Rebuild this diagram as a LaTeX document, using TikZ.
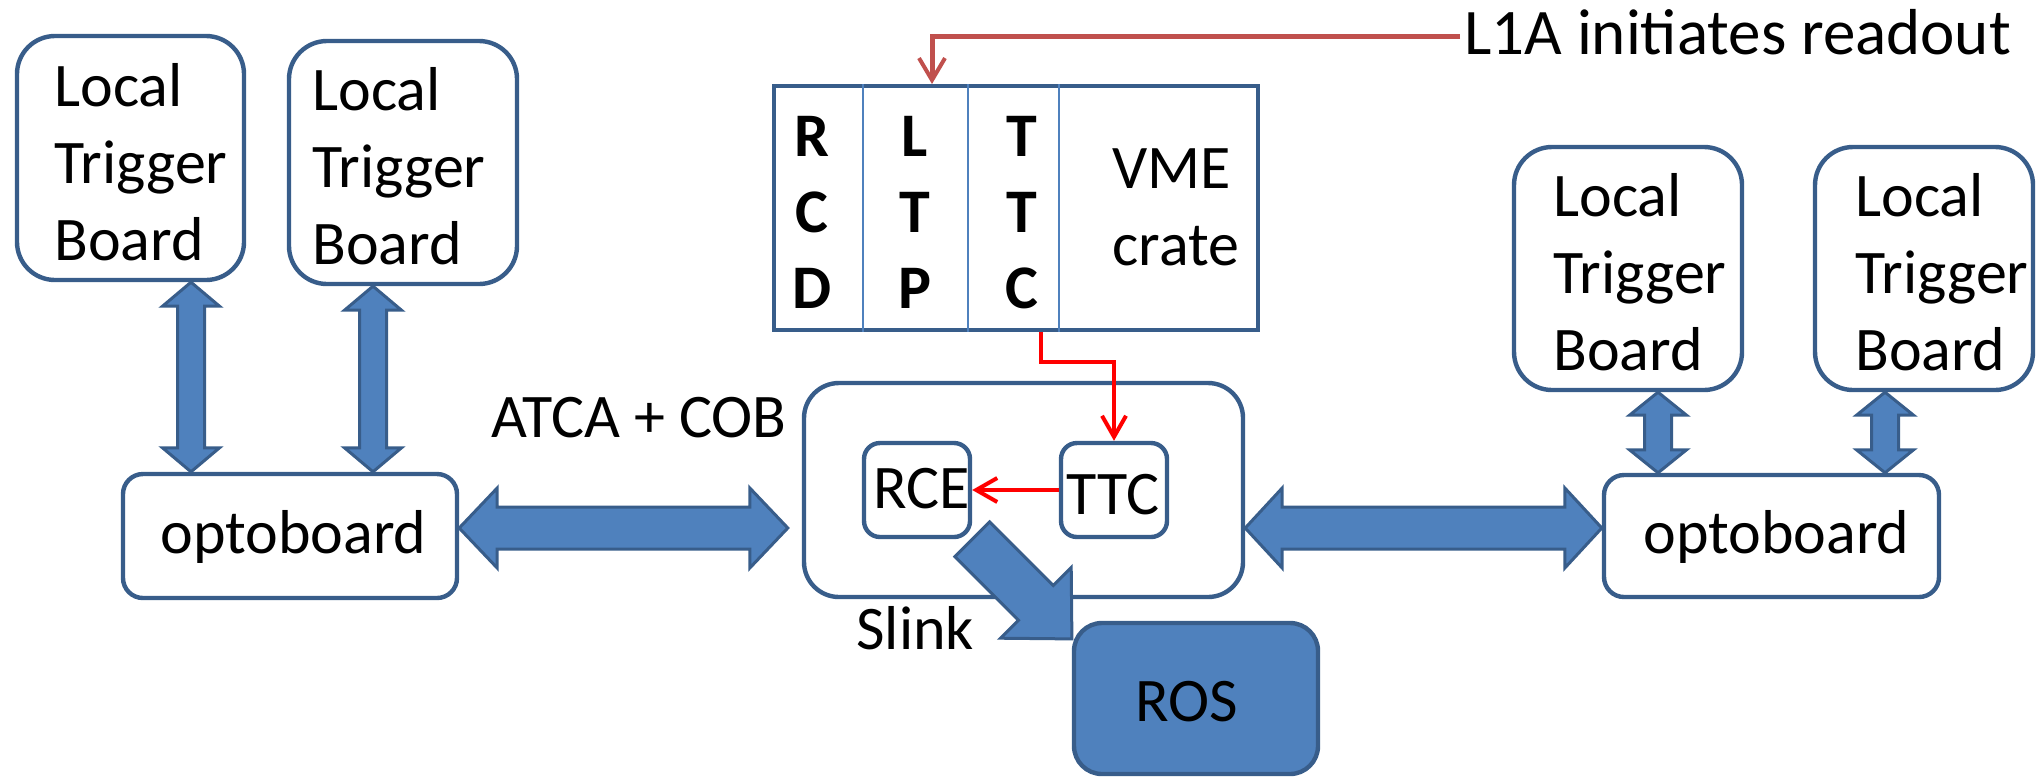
\documentclass[tikz,border=0pt]{standalone}
\usepackage{fontspec}
\setmainfont{Carlito}
\usetikzlibrary{fit,calc,arrows.meta}
\definecolor{boxline}{HTML}{385D8A}
\definecolor{afill}{HTML}{4F81BD}
\definecolor{lred}{HTML}{C0504D}
\definecolor{pred}{HTML}{FF0000}
\tikzset{
  rbox/.style={draw=boxline, line width=2.2pt, fill=white, inner sep=0pt},
  blk/.style={draw=boxline, fill=afill, line width=1.5pt, line join=miter},
  txt/.style={font=\fontsize{31}{38.5}\selectfont, inner sep=0pt, align=left, anchor=base west},
  bletters/.style={font=\fontsize{31}{38}\selectfont\bfseries, inner sep=0pt, align=center, anchor=base},
  redarr/.style={draw=pred, line width=2pt, -{Straight Barb[length=10.5pt,width=12pt,line width=2pt]}},
  l1aarr/.style={draw=lred, line width=2.5pt, -{Straight Barb[length=11pt,width=13pt,line width=2pt]}},
  divider/.style={draw=afill, line width=0.8pt}
}
\newcommand\vblk[5]{\filldraw[blk] (#1) -- ($(#1)+(#4,#5)$) -- ($(#1)+(#3,#5)$) -- ($(#2)+(#3,-#5)$) -- ($(#2)+(#4,-#5)$) -- (#2) -- ($(#2)+(-#4,-#5)$) -- ($(#2)+(-#3,-#5)$) -- ($(#1)+(-#3,#5)$) -- ($(#1)+(-#4,#5)$) -- cycle;}
\newcommand\hblk[5]{\filldraw[blk] (#1) -- ($(#1)+(#5,-#4)$) -- ($(#1)+(#5,-#3)$) -- ($(#2)+(-#5,-#3)$) -- ($(#2)+(-#5,-#4)$) -- (#2) -- ($(#2)+(-#5,#4)$) -- ($(#2)+(-#5,#3)$) -- ($(#1)+(#5,#3)$) -- ($(#1)+(#5,#4)$) -- cycle;}
\begin{document}
\begin{tikzpicture}[x=0.5pt,y=-0.5pt]
\useasboundingbox (0,0) rectangle (2037,778);
% Local trigger boards
\node[rbox, rounded corners=19pt, fit={(17,36)(244,280)}] (ltb1) {};
\node[rbox, rounded corners=19pt, fit={(289,41)(517,284)}] (ltb2) {};
\node[rbox, rounded corners=19pt, fit={(1514,147)(1742,390)}] (rltb1) {};
\node[rbox, rounded corners=19pt, fit={(1815,147)(2033,390)}] (rltb2) {};
\node[txt] (ltb1t) at (54,260) {Local\\Trigger\\Board};
\node[txt] (ltb2t) at (312,264) {Local\\Trigger\\Board};
\node[txt] (rltb1t) at (1553,370) {Local\\Trigger\\Board};
\node[txt] (rltb2t) at (1855,370) {Local\\Trigger\\Board};
% optoboards
\node[rbox, rounded corners=10pt, fit={(123,474)(457,598)}] (optoL) {};
\node[rbox, rounded corners=10pt, fit={(1604,475)(1939,597)}] (optoR) {};
\node[txt] (optoLt) at (160,553) {optoboard};
\node[txt] (optoRt) at (1643,553) {optoboard};
% VME crate
\node[draw=boxline, line width=2pt, inner sep=0pt, fit={(774,86)(1258,330)}] (crate) {};
\draw[divider] ($(crate.north west)+(91,0)$) -- ($(crate.south west)+(91,0)$);
\draw[divider] ($(crate.north west)+(196,0)$) -- ($(crate.south west)+(196,0)$);
\draw[divider] ($(crate.north west)+(287,0)$) -- ($(crate.south west)+(287,0)$);
\node[bletters] (rcd) at (812,308) {R\\C\\D};
\node[bletters] (ltp) at (915,308) {L\\T\\P};
\node[bletters] (ttcl) at (1022,308) {T\\T\\C};
\node[txt] (vme) at (1112,265) {VME\\crate};
% L1A
\node[txt, font=\fontsize{32.5}{38.5}\selectfont] (l1a) at (1464,54) {L1A initiates readout};
\coordinate (lx) at (932,0);
\draw[l1aarr] ($(l1a.base west)+(-4,-18)$) -| (lx |- crate.north);
% ATCA + COB
\node[rbox, rounded corners=17.5pt, fit={(804,383)(1243,597)}] (atca) {};
\node[txt] (atcat) at (491,437) {ATCA + COB};
\node[rbox, rounded corners=8pt, fit={(864,443)(970,537)}] (rce) {};
\node[rbox, rounded corners=8pt, fit={(1061,443)(1167,537)}] (ttc) {};
\node[txt] (rcet) at (873,508) {RCE};
\node[txt] (ttct) at (1066,514) {TTC};
\coordinate (cx) at (1041,0);
\draw[redarr] (cx |- crate.south) |- ($(ttc.north)+(0,-79)$) -- (ttc.north);
\draw[redarr] (ttc.west) -- (rce.east);
% vertical block arrows
\coordinate (va1) at (191,0);
\coordinate (va2) at (373,0);
\coordinate (va3) at (1658,0);
\coordinate (va4) at (1885,0);
\vblk{va1 |- ltb1.south}{va1 |- optoL.north}{13.5}{28.5}{24}
\vblk{va2 |- ltb2.south}{va2 |- optoL.north}{13.5}{28.5}{24}
\vblk{va3 |- rltb1.south}{va3 |- optoR.north}{13.5}{28.5}{23}
\vblk{va4 |- rltb2.south}{va4 |- optoR.north}{13.5}{28.5}{23}
% horizontal block arrows
\coordinate (ha) at (0,528);
\coordinate (hal) at (optoL.east |- ha);
\coordinate (har) at ($(atca.west |- ha)+(-14,0)$);
\hblk{hal}{har}{21}{40}{38}
\hblk{atca.east |- ha}{optoR.west |- ha}{21}{40}{37}
% Slink arrow
\begin{scope}[shift={(rce.south east)}, rotate=-45]
\filldraw[blk] (0,-24.5) -- (90,-24.5) -- (90,-50) -- (141,0) -- (90,50) -- (90,24.5) -- (0,24.5) -- cycle;
\end{scope}
\node[txt] (slink) at (856,649) {Slink};
% ROS
\node[draw=boxline, fill=afill, line width=2.2pt, inner sep=0pt, rounded corners=14pt, fit={(1074,623)(1318,774)}] (ros) {};
\node[txt] (rost) at (1135,721) {ROS};
\end{tikzpicture}
\end{document}
